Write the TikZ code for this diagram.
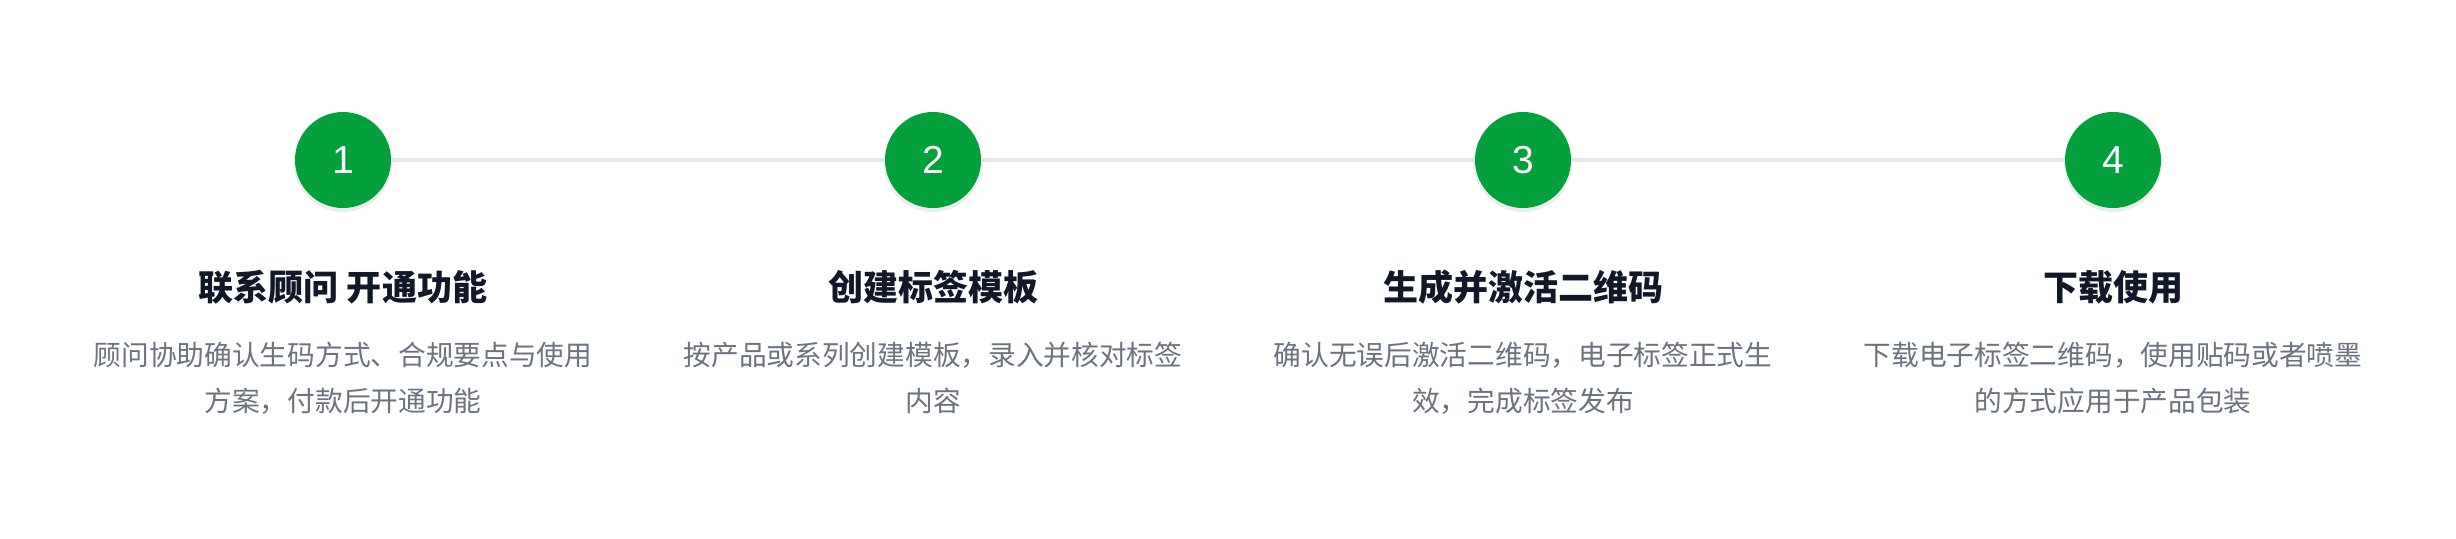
\documentclass[tikz,border=0pt]{standalone}
\usepackage{fontspec}
\setmainfont{Noto Sans CJK SC}
\newfontfamily\numfont{Liberation Sans}
\definecolor{stepgreen}{HTML}{03A03B}
\definecolor{linegray}{HTML}{E5E7EB}
\definecolor{titlecol}{HTML}{111827}
\definecolor{desccol}{HTML}{6B7280}
\tikzset{
  stepcircle/.style={circle, fill=stepgreen, minimum size=96pt, inner sep=0pt, text=white, font=\numfont\fontsize{39}{39}\selectfont},
  shadowcircle/.style={fill=black, opacity=0.07},
  steptitle/.style={anchor=base, inner sep=0pt, text=titlecol, font=\bfseries\fontsize{35}{35}\selectfont},
  stepdesc/.style={anchor=base, inner sep=0pt, text=desccol, font=\fontsize{27.7}{27.7}\selectfont},
  connector/.style={draw=linegray, line width=4pt}
}
\begin{document}
\begin{tikzpicture}[x=1pt,y=-1pt]
\useasboundingbox (0,0) rectangle (2456,538);
\fill[white] (0,0) rectangle (2456,538);
% shadows
\foreach \x in {343,933,1523,2113} {\fill[shadowcircle] (\x,163) circle (49);}
\node[stepcircle] (c1) at (343,160) {1};
\node[stepcircle] (c2) at (933,160) {2};
\node[stepcircle] (c3) at (1523,160) {3};
\node[stepcircle] (c4) at (2113,160) {4};
\draw[connector] (c1.east) -- (c2.west);
\draw[connector] (c2.east) -- (c3.west);
\draw[connector] (c3.east) -- (c4.west);
% titles
\node[steptitle] (t1) at (343,300) {联系顾问 开通功能};
\node[steptitle] (t2) at (933,300) {创建标签模板};
\node[steptitle] (t3) at (1523,300) {生成并激活二维码};
\node[steptitle] (t4) at (2113,300) {下载使用};
% descriptions
\node[stepdesc] (d1a) at (343,365) {顾问协助确认生码方式、合规要点与使用};
\node[stepdesc] (d1b) at (343,411) {方案，付款后开通功能};
\node[stepdesc] (d2a) at (933,365) {按产品或系列创建模板，录入并核对标签};
\node[stepdesc] (d2b) at (933,411) {内容};
\node[stepdesc] (d3a) at (1523,365) {确认无误后激活二维码，电子标签正式生};
\node[stepdesc] (d3b) at (1523,411) {效，完成标签发布};
\node[stepdesc] (d4a) at (2113,365) {下载电子标签二维码，使用贴码或者喷墨};
\node[stepdesc] (d4b) at (2113,411) {的方式应用于产品包装};
\end{tikzpicture}
\end{document}
